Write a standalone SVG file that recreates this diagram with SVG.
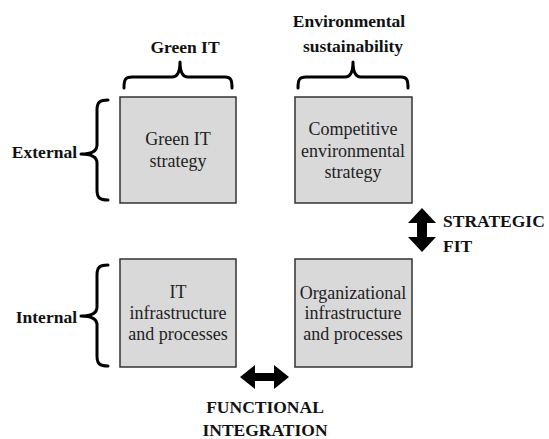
<svg xmlns="http://www.w3.org/2000/svg" width="549" height="439" viewBox="0 0 549 439">
  <style>
    .box { fill: #d9d9d9; stroke: #333; stroke-width: 1.5; }
    .txt { font-size: 18px; fill: #222; text-anchor: middle; }
    .lbl { font-size: 17.5px; font-weight: bold; fill: #111; }
    .brace { fill: none; stroke: #000; stroke-width: 3; stroke-linecap: round; stroke-linejoin: round; }
    .arrow { fill: #000; }
  </style>
  <rect width="549" height="439" fill="#fff"/>

  <!-- axis labels and braces -->
  <g id="label-green-it">
    <text class="lbl" font-family="Liberation Serif" x="185" y="53" text-anchor="middle">Green IT</text>
    <path class="brace" d="M124,88 C124,80 125,77 132,77 L172,77 C178,77 180,72 180,62 C180,72 182,77 188,77 L225,77 C231,77 232,80 232,88"/>
  </g>
  <g id="label-env">
    <text class="lbl" font-family="Liberation Serif" x="349" y="27" text-anchor="middle">Environmental</text>
    <text class="lbl" font-family="Liberation Serif" x="353" y="52" text-anchor="middle">sustainability</text>
    <path class="brace" d="M298,88 C298,80 299,77 306,77 L345,77 C351,77 353,72 353,62 C353,72 355,77 361,77 L401,77 C407,77 408,80 408,88"/>
  </g>
  <g id="label-external">
    <text class="lbl" font-family="Liberation Serif" x="77" y="158" text-anchor="end">External</text>
    <path class="brace" d="M108,100 C100,100 97,102 97,110 L97,145 C97,151 92,154 81,154 C92,154 97,157 97,163 L97,190 C97,198 100,200 108,200"/>
  </g>
  <g id="label-internal">
    <text class="lbl" font-family="Liberation Serif" x="77" y="323" text-anchor="end">Internal</text>
    <path class="brace" d="M108,265 C100,265 97,267 97,275 L97,307 C97,313 92,316 81,316 C92,316 97,319 97,325 L97,356 C97,364 100,366 108,366"/>
  </g>

  <!-- quadrants -->
  <g id="green-it-strategy">
    <rect class="box" x="120" y="97" width="116" height="106"/>
    <text class="txt" font-family="Liberation Serif" x="178" y="145">Green IT</text>
    <text class="txt" font-family="Liberation Serif" x="178" y="167">strategy</text>
  </g>
  <g id="competitive-strategy">
    <rect class="box" x="295" y="97" width="117" height="106"/>
    <text class="txt" font-family="Liberation Serif" x="353" y="135">Competitive</text>
    <text class="txt" font-family="Liberation Serif" x="353" y="157">environmental</text>
    <text class="txt" font-family="Liberation Serif" x="353" y="178">strategy</text>
  </g>
  <g id="it-infrastructure">
    <rect class="box" x="120" y="259" width="116" height="108"/>
    <text class="txt" font-family="Liberation Serif" x="178" y="298">IT</text>
    <text class="txt" font-family="Liberation Serif" x="178" y="319">infrastructure</text>
    <text class="txt" font-family="Liberation Serif" x="178" y="340">and processes</text>
  </g>
  <g id="org-infrastructure">
    <rect class="box" x="295" y="259" width="117" height="108"/>
    <text class="txt" font-family="Liberation Serif" x="353" y="299">Organizational</text>
    <text class="txt" font-family="Liberation Serif" x="353" y="319">infrastructure</text>
    <text class="txt" font-family="Liberation Serif" x="353" y="340">and processes</text>
  </g>

  <!-- alignment arrows -->
  <g id="connectors">
    <path class="arrow" d="M422,208 L436,223 L427,223 L427,237 L436,237 L422,252 L408,237 L417,237 L417,223 L408,223 Z"/>
    <path class="arrow" d="M240,377 L255,365 L255,373 L274,373 L274,365 L289,377 L274,389 L274,381 L255,381 L255,389 Z"/>
  </g>
  <g id="label-strategic-fit">
    <text class="lbl" font-family="Liberation Serif" x="443" y="227">STRATEGIC</text>
    <text class="lbl" font-family="Liberation Serif" x="443" y="252">FIT</text>
  </g>
  <g id="label-functional-integration">
    <text class="lbl" font-family="Liberation Serif" x="265" y="413" text-anchor="middle">FUNCTIONAL</text>
    <text class="lbl" font-family="Liberation Serif" x="265" y="436" text-anchor="middle">INTEGRATION</text>
  </g>
</svg>
